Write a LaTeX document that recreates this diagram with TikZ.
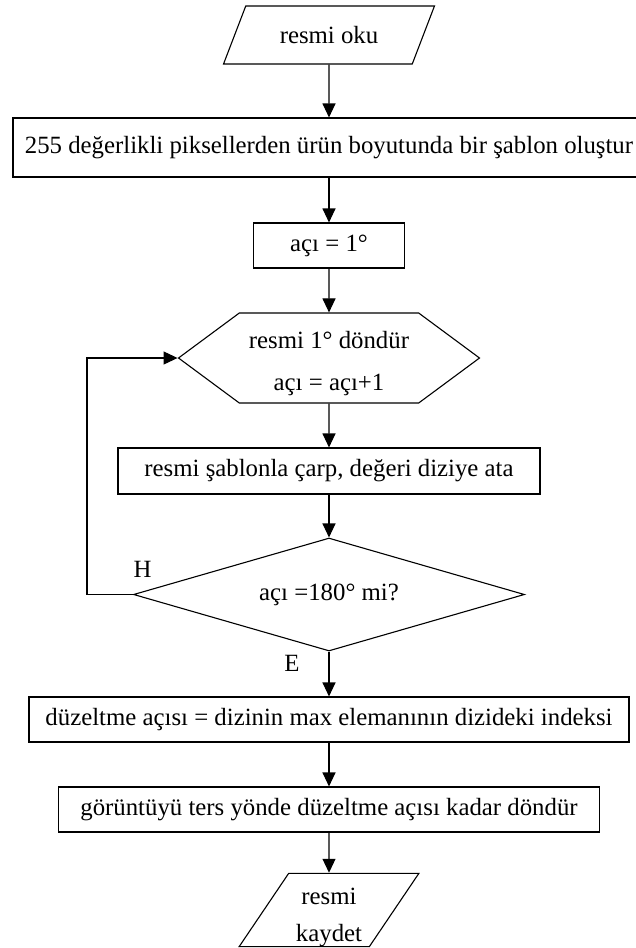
\documentclass[tikz,border=0pt]{standalone}
\usepackage{fontspec}
\setmainfont{Liberation Serif}
\usetikzlibrary{arrows.meta,shapes.geometric,shapes.symbols}

\begin{document}
\begin{tikzpicture}[
  x=1pt, y=-1pt,
  >={Triangle[length=14pt,width=13pt]},
  font=\fontsize{24.8}{29}\selectfont,
  line width=1.1pt,
  box/.style={rectangle, draw, align=center, inner sep=0pt},
  io/.style={trapezium, trapezium stretches, draw, align=center, inner sep=0pt},
  loopbox/.style={signal, signal to=west and east, signal pointer angle=73,
                  draw, align=center, inner sep=0pt},
  decision/.style={diamond, aspect=3.46, draw, align=center, inner sep=0pt},
  lbl/.style={inner sep=0pt},
  arr/.style={->, draw=black}
]
\useasboundingbox (0,0) rectangle (635,948);
% --- Giriş ve hazırlık ---
\node[io, trapezium left angle=53, trapezium right angle=127,
      minimum width=211pt, minimum height=58pt] (oku) at (329,35) {resmi oku};
\node[box, minimum width=632pt, minimum height=59pt] (sablon) at (329,147.5)
  {255 değerlikli piksellerden ürün boyutunda bir şablon oluştur};
\node[box, minimum width=151pt, minimum height=45pt] (aci) at (329,245.5) {açı = 1°};
% --- Döngü ---
\node[loopbox, text height=71pt, minimum width=301pt, minimum height=90pt] (dondur) at (329,358)
  {resmi 1° döndür\\[13pt]açı = açı+1};
\node[box, minimum width=422pt, minimum height=46pt] (carp) at (329,471)
  {resmi şablonla çarp, değeri diziye ata};
\node[decision, minimum width=391pt, minimum height=113pt] (kontrol) at (329,594.5)
  {açı =180° mi?};
% --- Sonuç ---
\node[box, minimum width=600pt, minimum height=45pt] (duzelt) at (329,719.5)
  {düzeltme açısı = dizinin max elemanının dizideki indeksi};
\node[box, minimum width=541pt, minimum height=45pt] (ters) at (329,809.5)
  {görüntüyü ters yönde düzeltme açısı kadar döndür};
\node[io, trapezium left angle=61, trapezium right angle=119, text height=68pt,
      minimum width=180pt, minimum height=66pt] (kaydet) at (329,910)
  {resmi\\[8pt]kaydet};
\draw[arr] (oku) -- (sablon);
\draw[arr] (sablon) -- (aci);
\draw[arr] (aci) -- (dondur);
\draw[arr] (dondur) -- (carp);
\draw[arr] (carp) -- (kontrol);
\draw[arr] (kontrol.west) node[lbl, anchor=south west, yshift=16pt] {H}
  -- ++(-46,0) |- (dondur.west);
\draw[arr] (kontrol.south) node[lbl, anchor=north east, xshift=-29pt, yshift=-3pt] {E}
  -- (duzelt);
\draw[arr] (duzelt) -- (ters);
\draw[arr] (ters) -- (kaydet);
\end{tikzpicture}
\end{document}
